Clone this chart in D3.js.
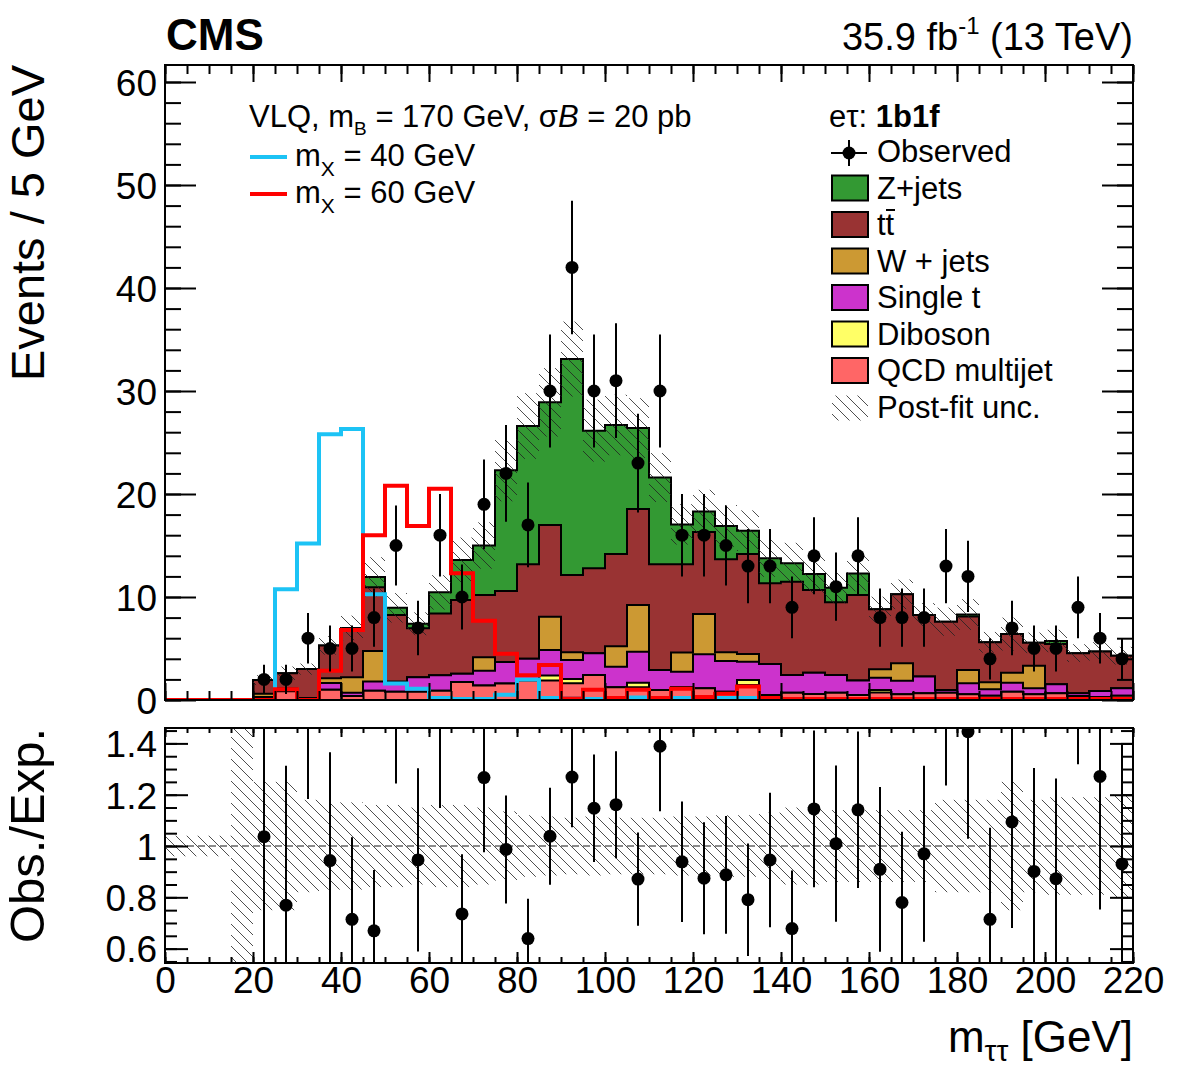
<!DOCTYPE html>
<html><head><meta charset="utf-8">
<script src="https://cdn.jsdelivr.net/npm/d3@7/dist/d3.min.js"></script>
<style>
body{margin:0;background:#fff}
text{font-family:"Liberation Sans",Arial,Helvetica,sans-serif;fill:#000}
</style>
</head><body>
<svg id="c" width="1182" height="1071"></svg>
<script>
// ---------------- data ----------------
const binLow = [0,5,10,15,20,25,30,35,40,45,50,55,60,65,70,75,80,85,90,95,100,105,110,115,120,125,130,135,140,145,150,155,160,165,170,175,180,185,190,195,200,205,210,215];
const binWidth = 5;
const observed = [0,0,0,0, 2,2,6,5,5,8, 15,7,16,10,19,22,17,30,42,30, 31,23,30,16,16,15,13,13,9,14, 11,14,8,8,8,13,12,4,7,5, 5,9,6,4];
const qcd     = [0,0,0,0, 0.2,0.85,0.2,1.0,0.4,0.9, 0.8,0.8,0.9,1.75,1.4,1.6,1.9,1.89,1.62,2.43, 1.23,1.23,0.97,1.23,1.13,0.8,1.46,0.49,0.7,0.58, 0.7,0.49,0.74,0.55,0.65,0.71,0.55,0.42,0.8,0.55, 0.65,0.39,0.3,0.42];
const diboson = [0,0,0,0, 0,0,0,0,0,0, 0,0,0,0,0,0,0,0.49,0.42,0, 0,0.45,0,0,0,0,0.48,0,0,0, 0,0,0.23,0,0,0,0,0,0,0, 0,0,0,0];
const singleT = [0,0,0,0, 0.1,0.25,0,0.65,0.3,0.9, 0.9,1.4,1.5,0.8,1.45,2.1,2.1,2.47,1.84,2.1, 2.01,3.01,1.94,1.52,3.3,2.99,1.78,3.01,1.73,2.07, 1.73,1.41,1.2,1.33,1.62,0.26,1.07,0.62,0.88,0.58, 0.87,0.26,0.57,0.71];
const wjets   = [0,0,0,0, 0.3,0,0,0.45,1.5,2.95, 0.1,0,0,0,1.3,0,0,3.24,0.75,0, 1.97,4.53,0,1.85,3.92,0.84,0.75,0,0,0, 0,0,0.81,1.68,0,0,1.29,0.68,0.97,2.2, 0,0,0,0];
const ttbar   = [0,0,0,0.05, 1.33,1.5,2.8,3.2,4.8,6.2, 6.45,4.76,6.0,7.15,6.05,6.88,9.17,8.91,7.51,8.25, 8.96,9.32,10.26,8.57,7.95,9.03,9.7,7.83,9.06,8.03, 7.05,8.29,5.82,6.7,5.98,6.63,5.19,3.88,3.75,2.22, 3.92,3.9,3.85,3.17];
const zjets   = [0,0,0,0, 0,0,0,0,0,1.0, 0.7,0.44,2.05,3.9,4.8,11.72,13.43,11.9,20.96,13.37, 12.53,7.86,8.43,3.88,2.0,3.24,2.27,2.42,1.78,1.55, 1.42,2.08,0,0,0,0,0.2,0,0,0, 0.29,0,0,0];
const relUnc  = [0.04,0.04,0.04,1.0, 0.25,0.25,0.18,0.17,0.17,0.16, 0.16,0.15,0.16,0.16,0.15,0.135,0.12,0.115,0.11,0.115, 0.11,0.11,0.11,0.115,0.115,0.12,0.12,0.13,0.15,0.15, 0.14,0.14,0.14,0.14,0.14,0.18,0.18,0.18,0.25,0.18, 0.19,0.19,0.19,0.2];
const sigMX40 = [0,0,0,0, 0,10.75,15.2,25.8,26.3,10.26, 1.6,1.1,0.2,0.1,0.1,0.5,2.0,0.2,0.15,0.1, 0.1,0.25,0.1,0.2,0.1,0.2,0.2,0.1,0.05,0.05, 0.05,0.05,0.05,0.05,0.05,0,0,0,0,0, 0,0,0,0];
const sigMX60 = [0,0,0,0, 0,1.04,0,2.85,6.8,16.0, 20.8,16.9,20.5,12.3,7.7,4.5,2.4,3.4,0.15,1.0, 0.2,1.0,0.2,1.1,0.3,0.6,1.3,0.2,0.1,0.1, 0.1,0.1,0.1,0.1,0.1,0.1,0.1,0.1,0.1,0.1, 0.1,0.1,0.1,0.1];

const xTicksMajor = [0,20,40,60,80,100,120,140,160,180,200,220];
const yTopTicks = [0,10,20,30,40,50,60];
const yRatTicks = [0.6,0.8,1,1.2,1.4];
const yRatLabels = ["0.6","0.8","1","1.2","1.4"];

const bkgNames  = ["QCD multijet","Diboson","Single t","W + jets","tt","Z+jets"];
const bkgColors = ["#ff6666","#ffff66","#cc33cc","#cc9933","#993333","#339933"];
const bkgValues = [qcd, diboson, singleT, wjets, ttbar, zjets];

// ---------------- layout ----------------
const svg = d3.select("#c");
const L = 165, R = 1133, T1 = 65, B1 = 700, T2 = 728, B2 = 963;
const x = d3.scaleLinear().domain([0,220]).range([L,R]);
const yT = d3.scaleLinear().domain([0,61.65]).range([B1,T1]);
const yR = d3.scaleLinear().domain([0.544,1.46]).range([B2,T2]);

const defs = svg.append("defs");
const pat = defs.append("pattern").attr("id","hatch").attr("patternUnits","userSpaceOnUse")
  .attr("width",11).attr("height",11);
pat.append("path").attr("d","M-5.5,5.5 L5.5,16.5 M0,0 L11,11 M5.5,-5.5 L16.5,5.5")
  .attr("stroke","#222").attr("stroke-width",0.8).attr("fill","none");
defs.append("clipPath").attr("id","clipTop").append("rect")
  .attr("x",L).attr("y",T1).attr("width",R-L).attr("height",B1-T1);
defs.append("clipPath").attr("id","clipRat").append("rect")
  .attr("x",L).attr("y",T2).attr("width",R-L).attr("height",B2-T2);

// cumulative stacks
const cum = [];
bkgValues.forEach((arr,k)=>{
  cum.push(arr.map((v,i)=> v + (k>0 ? cum[k-1][i] : 0)));
});
const total = cum[cum.length-1];

function stepPts(vals){
  const p = binLow.map((lo,i)=>[lo, vals[i]]);
  p.push([binLow[binLow.length-1]+binWidth, vals[vals.length-1]]);
  return p;
}
const area = d3.area().x(d=>x(d[0])).y0(yT(0)).y1(d=>yT(d[1])).curve(d3.curveStepAfter);
const line = d3.line().x(d=>x(d[0])).y(d=>yT(d[1])).curve(d3.curveStepAfter);

const gTop = svg.append("g").attr("clip-path","url(#clipTop)");
for(let k=cum.length-1;k>=0;k--){
  const pts = stepPts(cum[k]);
  gTop.append("path").attr("d",area(pts)).attr("fill",bkgColors[k]).attr("stroke","none");
  gTop.append("path").attr("d",line(pts)).attr("fill","none").attr("stroke","#000").attr("stroke-width",2);
}
// uncertainty band (top)
gTop.selectAll("rect.band").data(binLow.map((lo,i)=>({lo,t:total[i],r:relUnc[i]})).filter(d=>d.t>0))
  .enter().append("rect")
  .attr("x",d=>x(d.lo)).attr("width",d=>x(d.lo+binWidth)-x(d.lo))
  .attr("y",d=>yT(d.t*(1+d.r))).attr("height",d=>yT(d.t*(1-d.r))-yT(d.t*(1+d.r)))
  .attr("fill","url(#hatch)");
// signals
gTop.append("path").attr("d",line(stepPts(sigMX40))).attr("fill","none").attr("stroke","#1cc3f5").attr("stroke-width",4);
gTop.append("path").attr("d",line(stepPts(sigMX60))).attr("fill","none").attr("stroke","#ff0000").attr("stroke-width",4);
// data
const obsData = binLow.map((lo,i)=>({c:lo+binWidth/2,n:observed[i],t:total[i]})).filter(d=>d.n>0);
gTop.selectAll("line.err").data(obsData).enter().append("line")
  .attr("x1",d=>x(d.c)).attr("x2",d=>x(d.c))
  .attr("y1",d=>yT(d.n+Math.sqrt(d.n))).attr("y2",d=>yT(d.n-Math.sqrt(d.n)))
  .attr("stroke","#000").attr("stroke-width",2);
gTop.selectAll("circle.pt").data(obsData).enter().append("circle")
  .attr("cx",d=>x(d.c)).attr("cy",d=>yT(d.n)).attr("r",6.5).attr("fill","#000");

// ratio panel
const gRat = svg.append("g").attr("clip-path","url(#clipRat)");
gRat.selectAll("rect.rb").data(binLow.map((lo,i)=>({lo,r:relUnc[i]}))).enter().append("rect")
  .attr("x",d=>x(d.lo)).attr("width",d=>x(d.lo+binWidth)-x(d.lo))
  .attr("y",d=>yR(1+d.r)).attr("height",d=>yR(1-d.r)-yR(1+d.r))
  .attr("fill","url(#hatch)");
gRat.append("line").attr("x1",L).attr("x2",R).attr("y1",yR(1)).attr("y2",yR(1))
  .attr("stroke","#666").attr("stroke-width",1.6).attr("stroke-dasharray","7,4");
const ratData = obsData.filter(d=>d.t>0);
gRat.selectAll("line.rerr").data(ratData).enter().append("line")
  .attr("x1",d=>x(d.c)).attr("x2",d=>x(d.c))
  .attr("y1",d=>yR((d.n+Math.sqrt(d.n))/d.t)).attr("y2",d=>yR((d.n-Math.sqrt(d.n))/d.t))
  .attr("stroke","#000").attr("stroke-width",2);
gRat.selectAll("circle.rpt").data(ratData).enter().append("circle")
  .attr("cx",d=>x(d.c)).attr("cy",d=>yR(d.n/d.t)).attr("r",6.5).attr("fill","#000");

// ---------------- axes ----------------
function styleAxis(g){
  g.select(".domain").remove();
  g.selectAll(".tick line").attr("stroke","#000").attr("stroke-width",2);
  g.selectAll(".tick text").style("font-family",'"Liberation Sans",Arial,sans-serif');
}
function minorVals(lo,hi,step){ const a=[]; for(let v=lo; v<=hi+1e-9; v+=step) a.push(+v.toFixed(4)); return a; }

// top panel
const yMinor = minorVals(0,60,2);
svg.append("g").attr("transform",`translate(${L},0)`)
  .call(d3.axisLeft(yT).tickValues(yTopTicks).tickSize(-31).tickPadding(8))
  .call(styleAxis).call(g=>g.selectAll("text").attr("font-size",37).attr("dy","0.36em"));
svg.append("g").attr("transform",`translate(${L},0)`)
  .call(d3.axisLeft(yT).tickValues(yMinor).tickSize(-16).tickFormat("")).call(styleAxis);
svg.append("g").attr("transform",`translate(${R},0)`)
  .call(d3.axisRight(yT).tickValues(yTopTicks).tickSize(-31).tickFormat("")).call(styleAxis);
svg.append("g").attr("transform",`translate(${R},0)`)
  .call(d3.axisRight(yT).tickValues(yMinor).tickSize(-16).tickFormat("")).call(styleAxis);
const xMinor = minorVals(0,220,5);
[[B1,d3.axisBottom],[T1,d3.axisTop]].forEach(([yy,fn])=>{
  svg.append("g").attr("transform",`translate(0,${yy})`)
    .call(fn(x).tickValues(xTicksMajor).tickSize(-17).tickFormat("")).call(styleAxis);
  svg.append("g").attr("transform",`translate(0,${yy})`)
    .call(fn(x).tickValues(xMinor).tickSize(-9).tickFormat("")).call(styleAxis);
});
// ratio panel
const rMinor = minorVals(0.55,1.45,0.05);
svg.append("g").attr("transform",`translate(${L},0)`)
  .call(d3.axisLeft(yR).tickValues(yRatTicks).tickSize(-23).tickPadding(8).tickFormat((d,i)=>yRatLabels[i]))
  .call(styleAxis).call(g=>g.selectAll("text").attr("font-size",37).attr("dy","0.36em"));
svg.append("g").attr("transform",`translate(${L},0)`)
  .call(d3.axisLeft(yR).tickValues(rMinor).tickSize(-12).tickFormat("")).call(styleAxis);
svg.append("g").attr("transform",`translate(${R},0)`)
  .call(d3.axisRight(yR).tickValues(yRatTicks).tickSize(-23).tickFormat("")).call(styleAxis);
svg.append("g").attr("transform",`translate(${R},0)`)
  .call(d3.axisRight(yR).tickValues(rMinor).tickSize(-12).tickFormat("")).call(styleAxis);
svg.append("g").attr("transform",`translate(0,${B2})`)
  .call(d3.axisBottom(x).tickValues(xTicksMajor).tickSize(-11).tickPadding(6))
  .call(styleAxis).call(g=>g.selectAll("text").attr("font-size",37).attr("dy","0.71em").attr("y",4));
svg.append("g").attr("transform",`translate(0,${B2})`)
  .call(d3.axisBottom(x).tickValues(xMinor).tickSize(-6).tickFormat("")).call(styleAxis);
svg.append("g").attr("transform",`translate(0,${T2})`)
  .call(d3.axisTop(x).tickValues(xTicksMajor).tickSize(-9).tickFormat("")).call(styleAxis);
svg.append("g").attr("transform",`translate(0,${T2})`)
  .call(d3.axisTop(x).tickValues(xMinor).tickSize(-5).tickFormat("")).call(styleAxis);

// frames
svg.append("rect").attr("x",L).attr("y",T1).attr("width",R-L).attr("height",B1-T1)
  .attr("fill","none").attr("stroke","#000").attr("stroke-width",2);
svg.append("rect").attr("x",L).attr("y",T2).attr("width",R-L).attr("height",B2-T2)
  .attr("fill","none").attr("stroke","#000").attr("stroke-width",2);

// ---------------- titles ----------------
svg.append("text").attr("x",L+1).attr("y",50).attr("font-size",44).attr("font-weight","bold").text("CMS");
const lum = svg.append("text").attr("x",R).attr("y",50).attr("font-size",38).attr("text-anchor","end");
lum.append("tspan").text("35.9 fb");
lum.append("tspan").attr("font-size",24).attr("dy",-16).text("-1");
lum.append("tspan").attr("dy",16).text(" (13 TeV)");

svg.append("text").attr("transform","translate(44,65) rotate(-90)").attr("text-anchor","end")
  .attr("font-size",47).text("Events / 5 GeV");
svg.append("text").attr("transform","translate(44,943) rotate(-90)").attr("text-anchor","start")
  .attr("font-size",49).text("Obs./Exp.");
const xt = svg.append("text").attr("x",R).attr("y",1052).attr("text-anchor","end").attr("font-size",44);
xt.append("tspan").text("m");
xt.append("tspan").attr("font-size",30).attr("dy",9).text("ττ");
xt.append("tspan").attr("dy",-9).text(" [GeV]");

// ---------------- legends ----------------
const lf = 31;
const vlq = svg.append("text").attr("x",249).attr("y",127).attr("font-size",lf);
vlq.append("tspan").text("VLQ, m");
vlq.append("tspan").attr("font-size",19).attr("dy",8).text("B");
vlq.append("tspan").attr("dy",-8).text(" = 170 GeV, σ");
vlq.append("tspan").attr("font-style","italic").text("B");
vlq.append("tspan").text(" = 20 pb");
const sigLeg = [{c:"#1cc3f5",m:"40",y:166},{c:"#ff0000",m:"60",y:203}];
sigLeg.forEach(s=>{
  svg.append("line").attr("x1",250).attr("x2",287).attr("y1",s.y-9).attr("y2",s.y-9)
    .attr("stroke",s.c).attr("stroke-width",4);
  const t = svg.append("text").attr("x",295).attr("y",s.y).attr("font-size",lf);
  t.append("tspan").text("m");
  t.append("tspan").attr("font-size",21).attr("dy",10).text("X");
  t.append("tspan").attr("dy",-10).text(" = "+s.m+" GeV");
});

const hd = svg.append("text").attr("x",829).attr("y",127).attr("font-size",lf);
hd.append("tspan").text("eτ: ");
hd.append("tspan").attr("font-weight","bold").text("1b1f");

const rowY = (i)=>162 + i*36.5;
// observed
svg.append("line").attr("x1",831).attr("x2",867).attr("y1",rowY(0)-9).attr("y2",rowY(0)-9).attr("stroke","#000").attr("stroke-width",2);
svg.append("line").attr("x1",849).attr("x2",849).attr("y1",rowY(0)-22).attr("y2",rowY(0)+4).attr("stroke","#000").attr("stroke-width",2);
svg.append("circle").attr("cx",849).attr("cy",rowY(0)-9).attr("r",6.5).attr("fill","#000");
svg.append("text").attr("x",877).attr("y",rowY(0)).attr("font-size",lf).text("Observed");
// backgrounds, top of stack first
const legOrder = [5,4,3,2,1,0];
legOrder.forEach((k,j)=>{
  const yy = rowY(j+1);
  svg.append("rect").attr("x",832).attr("y",yy-23).attr("width",36).attr("height",25)
    .attr("fill",bkgColors[k]).attr("stroke","#000").attr("stroke-width",2);
  const t = svg.append("text").attr("x",877).attr("y",yy).attr("font-size",lf);
  if(bkgNames[k]==="tt"){
    t.text("tt");
    svg.append("line").attr("x1",886).attr("x2",895).attr("y1",yy-25).attr("y2",yy-25)
      .attr("stroke","#000").attr("stroke-width",2);
  } else t.text(bkgNames[k]);
});
svg.append("rect").attr("x",832).attr("y",rowY(7)-22).attr("width",36).attr("height",25).attr("fill","url(#hatch)");
svg.append("text").attr("x",877).attr("y",rowY(7)).attr("font-size",lf).text("Post-fit unc.");
</script>
</body></html>
